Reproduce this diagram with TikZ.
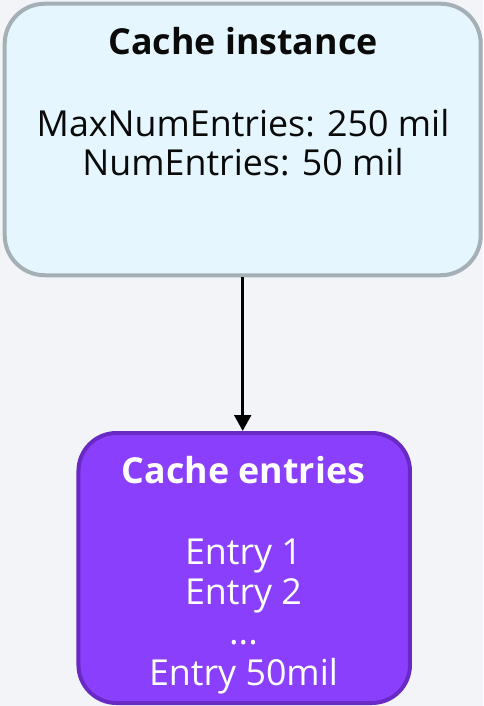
\documentclass[tikz,border=0pt]{standalone}
\usepackage{fontspec}
\setmainfont{Open Sans}
\usetikzlibrary{arrows.meta}
\definecolor{bgc}{HTML}{F2F4F8}
\definecolor{instfill}{HTML}{E5F6FF}
\definecolor{instline}{HTML}{A4B0B6}
\definecolor{entfill}{HTML}{8A3FFC}
\definecolor{entline}{HTML}{6929C4}
\definecolor{txt}{HTML}{0A0A0A}
\tikzset{
  box/.style={draw, line width=4pt, rounded corners=40pt, inner sep=0pt},
  instbox/.style={box, fill=instfill, draw=instline},
  entbox/.style={box, fill=entfill, draw=entline, rounded corners=38pt},
  lbl/.style={anchor=base, inner sep=0pt, font=\fontsize{35.8}{40}\selectfont},
  ttl/.style={lbl, font=\fontsize{35.8}{40}\selectfont\bfseries},
  conn/.style={line width=3.5pt, -{Triangle[width=16.5pt,length=16pt]}}
}
\begin{document}
\begin{tikzpicture}[x=1pt,y=-1pt]
\fill[bgc] (0,0) rectangle (483,706);
\useasboundingbox (0,0) rectangle (483,706);
\node[instbox, minimum width=476pt, minimum height=271.5pt] (inst) at (242.7,139.5) {};
\node[entbox, minimum width=331.5pt, minimum height=270pt] (ent) at (244.2,568) {};
\node[ttl, text=txt] (t1) at (243,55) {Cache instance};
\node[lbl, text=txt] (l1) at (243,136) {MaxNumEntries: 250 mil};
\node[lbl, text=txt] (l2) at (243,175) {NumEntries: 50 mil};
\node[ttl, text=white] (t2) at (243.5,483) {Cache entries};
\node[lbl, text=white] (e1) at (243.5,564) {Entry 1};
\node[lbl, text=white] (e2) at (243.5,604) {Entry 2};
\node[lbl, text=white] (e3) at (243.5,644) {...};
\node[lbl, text=white] (e4) at (243.5,685) {Entry 50mil};
\draw[conn] (inst.south) -- (inst.south |- ent.north);
\end{tikzpicture}
\end{document}
